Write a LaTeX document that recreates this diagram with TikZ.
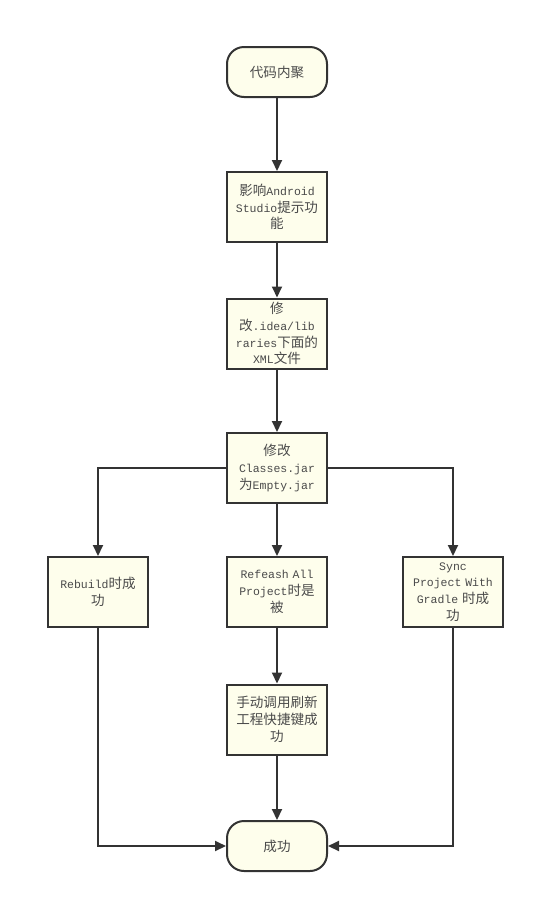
\documentclass[tikz,border=0pt]{standalone}
\usepackage{fontspec}
\setmainfont{Liberation Mono}
\newfontfamily\cjkfont[Scale=1.18]{Noto Sans CJK SC}
\newcommand\zh[1]{{\cjkfont #1}}
\usetikzlibrary{arrows.meta}
\definecolor{boxfill}{HTML}{FEFEEC}
\definecolor{edgecol}{HTML}{333333}
\definecolor{txtcol}{HTML}{4A4A4A}
\begin{document}
\begin{tikzpicture}[x=1pt,y=-1pt,
  base/.style={draw=edgecol,fill=boxfill,line width=2pt,minimum width=100pt,
    text width=92pt,align=center,inner sep=0pt,text=txtcol,
    font=\fontsize{11.5}{16.7}\selectfont},
  procbox/.style={base,minimum height=70pt},
  termbox/.style={base,minimum height=50pt,rounded corners=17pt},
  conn/.style={draw=edgecol,line width=2pt,-{Triangle[length=11pt,width=10pt]}}]
\useasboundingbox (0,0) rectangle (535,903);
\node[termbox] (start) at (277,72) {\zh{代码内聚}};
\node[procbox] (b1) at (277,207) {\zh{影响}Android\\Studio\zh{提示功}\\\zh{能}};
\node[procbox] (b2) at (277,333.5) {\zh{修}\\\zh{改}.idea/lib\\raries\zh{下面的}\\XML\zh{文件}};
\node[procbox] (b3) at (277,468) {\zh{修改}\\Classes.jar\\\zh{为}Empty.jar};
\node[procbox] (left) at (98,592) {Rebuild\zh{时成}\\\zh{功}};
\node[procbox] (mid) at (277,592) {Refeash All\\Project\zh{时是}\\\zh{被}};
\node[procbox] (right) at (453,592) {Sync\\Project With\\Gradle \zh{时成}\\\zh{功}};
\node[procbox] (b4) at (277,719.5) {\zh{手动调用刷新}\\\zh{工程快捷键成}\\\zh{功}};
\node[termbox] (end) at (277,846) {\zh{成功}};
\draw[conn] (start) -- (b1);
\draw[conn] (b1) -- (b2);
\draw[conn] (b2) -- (b3);
\draw[conn] (b3) -- (mid);
\draw[conn] (mid) -- (b4);
\draw[conn] (b4) -- (end);
\draw[conn] (b3.west) -| (left.north);
\draw[conn] (b3.east) -| (right.north);
\draw[conn] (left.south) |- (end.west);
\draw[conn] (right.south) |- (end.east);
\end{tikzpicture}
\end{document}
